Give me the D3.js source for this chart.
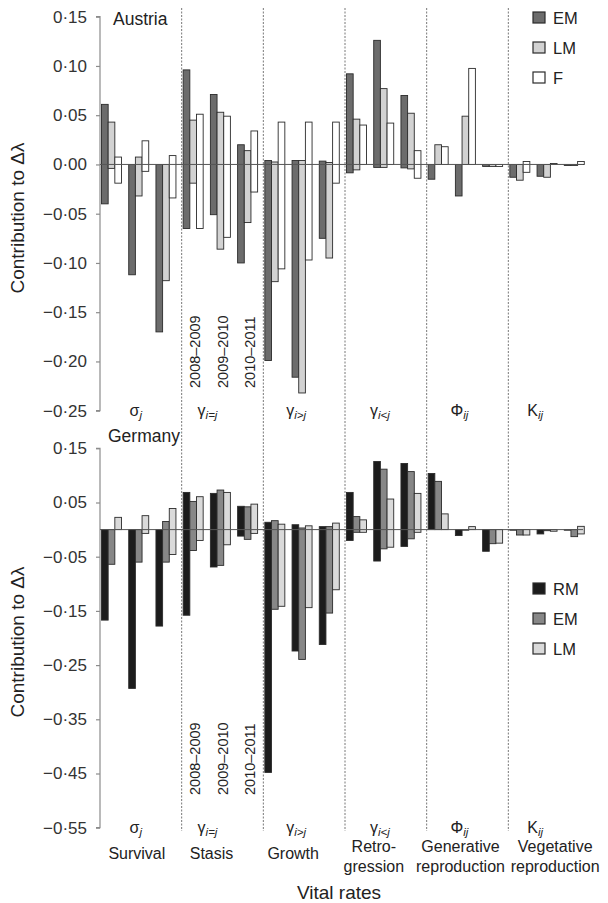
<!DOCTYPE html>
<html>
<head>
<meta charset="utf-8">
<script src="https://cdn.jsdelivr.net/npm/d3@7"></script>
<style>
  html, body { margin: 0; padding: 0; background: #fff; }
  svg { display: block; font-family: "Liberation Sans", Arial, sans-serif; }
</style>
</head>
<body>
<svg id="chart" width="608" height="903"></svg>
<script>
// Vital-rate groups along the x axis
const rateSymbols = ["σ", "γ", "γ", "γ", "Φ", "Κ"];
const rateSubs = ["j", "i=j", "i>j", "i<j", "ij", "ij"];
const rateNames = [["Survival"], ["Stasis"], ["Growth"], ["Retro-", "gression"],
                   ["Generative", "reproduction"], ["Vegetative", "reproduction"]];
const years = ["2008–2009", "2009–2010", "2010–2011"];

// Austria: positive / negative contributions, 6 rates x 3 years each
const austriaSeries = ["EM", "LM", "F"];
const austriaEMpos = [0.061, 0, 0,  0.096, 0.071, 0.020,  0.004, 0.004, 0.0034,  0.092, 0.126, 0.070,  0, 0, 0,  0, 0, 0];
const austriaEMneg = [-0.040, -0.112, -0.170,  -0.065, -0.051, -0.100,  -0.199, -0.216, -0.075,  -0.0085, -0.003, -0.0035,  -0.015, -0.032, -0.002,  -0.013, -0.012, -0.001];
const austriaLMpos = [0.043, 0.0075, 0,  0.045, 0.053, 0.014,  0.0025, 0.004, 0.002,  0.046, 0.077, 0.052,  0.020, 0.049, 0,  0, 0, 0];
const austriaLMneg = [-0.004, -0.032, -0.118,  -0.019, -0.086, -0.059,  -0.119, -0.232, -0.095,  -0.0055, -0.003, -0.0045,  0, 0, -0.002,  -0.016, -0.013, -0.001];
const austriaFpos  = [0.0075, 0.024, 0.009,  0.051, 0.049, 0.034,  0.043, 0.043, 0.043,  0.040, 0.042, 0.014,  0.018, 0.0975, 0,  0.003, 0.001, 0.003];
const austriaFneg  = [-0.019, -0.007, -0.034,  -0.065, -0.074, -0.028,  -0.106, -0.097, -0.019,  0, 0, -0.014,  0, 0, -0.002,  -0.008, 0, 0];

// Germany: positive / negative contributions
const germanySeries = ["RM", "EM", "LM"];
const germanyRMpos = [0, 0, 0,  0.0686, 0.0668, 0.043,  0.0135, 0.009, 0.0055,  0.0686, 0.1256, 0.122,  0.1035, 0, 0,  0, 0, 0];
const germanyRMneg = [-0.167, -0.293, -0.178,  -0.158, -0.069, -0.012,  -0.448, -0.224, -0.212,  -0.020, -0.058, -0.031,  0, -0.011, -0.040,  0, -0.008, 0];
const germanyEMpos = [0, 0, 0.015,  0.052, 0.073, 0.042,  0.0165, 0.003, 0.0055,  0.024, 0.1115, 0.107,  0.089, 0, 0,  0, 0, 0];
const germanyEMneg = [-0.064, -0.060, -0.060,  -0.0386, -0.066, -0.018,  -0.147, -0.2395, -0.154,  -0.005, -0.0355, -0.017,  0, -0.001, -0.026,  -0.010, -0.002, -0.013];
const germanyLMpos = [0.0226, 0.0257, 0.039,  0.0607, 0.0686, 0.047,  0.010, 0.007, 0.012,  0.018, 0.0564, 0.0668,  0.029, 0.0055, 0,  0, 0, 0.006];
const germanyLMneg = [0, -0.007, -0.046,  -0.020, -0.028, -0.007,  -0.1415, -0.144, -0.111,  -0.005, -0.0325, -0.005,  0, 0, -0.025,  -0.010, -0.003, -0.008];

// Axis tick values
const austriaTicks = [0.15, 0.10, 0.05, 0.00, -0.05, -0.10, -0.15, -0.20, -0.25];
const germanyTicks = [0.15, 0.05, -0.05, -0.15, -0.25, -0.35, -0.45, -0.55];

// Layout: horizontal nudges of the group captions from their group centres
const symbolNudge = [-5, -15, -8, -6, -8, -14];
const nameNudge = [-4, -11, -11, -12, -7, 6];

const svg = d3.select("#chart");
const plotLeft = 100, plotRight = 590;

const x0 = d3.scaleBand().domain(d3.range(rateSymbols.length)).range([plotLeft, plotRight]);
const x1 = d3.scaleBand().domain(years).range([0, x0.bandwidth()]);
const groupCenter = i => x0(i) + x0.bandwidth() / 2;

const fmt = v => d3.format(".2f")(v).replace(".", "·").replace("-", "−");

function buildRows(series, pos, neg) {
  const rows = [];
  series.forEach((s, si) => {
    for (let g = 0; g < rateSymbols.length; g++) {
      years.forEach((yr, yi) => {
        const k = g * years.length + yi;
        rows.push({ series: s, group: g, year: yr, pos: pos[si][k], neg: neg[si][k] });
      });
    }
  });
  return rows;
}

const panels = [
  {
    name: "Austria", series: austriaSeries,
    rows: buildRows(austriaSeries, [austriaEMpos, austriaLMpos, austriaFpos], [austriaEMneg, austriaLMneg, austriaFneg]),
    colors: ["#6c6c6c", "#d2d2d2", "#ffffff"],
    domain: [-0.25, 0.15], ticks: austriaTicks, range: [410.7, 16.7],
    titleX: 113, titleY: 25, legendX: 533, legendY: 12,
    yearLabelBottom: 388, labelCenterY: 218
  },
  {
    name: "Germany", series: germanySeries,
    rows: buildRows(germanySeries, [germanyRMpos, germanyEMpos, germanyLMpos], [germanyRMneg, germanyEMneg, germanyLMneg]),
    colors: ["#1c1c1c", "#878787", "#dadada"],
    domain: [-0.55, 0.15], ticks: germanyTicks, range: [827.7, 448.3],
    titleX: 108, titleY: 442, legendX: 533, legendY: 583,
    yearLabelBottom: 795, labelCenterY: 642
  }
];

// Dashed separators between vital-rate groups, running through both panels
svg.append("g").selectAll("line")
  .data(d3.range(1, rateSymbols.length))
  .join("line")
  .attr("x1", d => x0(d)).attr("x2", d => x0(d))
  .attr("y1", 8).attr("y2", 831)
  .attr("stroke", "#555").attr("stroke-width", 0.8)
  .attr("stroke-dasharray", "2,1.5");

panels.forEach(p => {
  const y = d3.scaleLinear().domain(p.domain).range(p.range);
  const x2 = d3.scaleBand().domain(p.series).range([1.5, 21.5]);
  const color = d3.scaleOrdinal().domain(p.series).range(p.colors);
  const g = svg.append("g");

  // y axis
  const axis = d3.axisLeft(y).tickValues(p.ticks).tickFormat(fmt).tickSize(4).tickPadding(9);
  const ax = g.append("g").attr("transform", `translate(${plotLeft},0)`).call(axis);
  ax.select(".domain").attr("stroke", "#8c8c8c").attr("stroke-width", 1.2)
    .attr("d", `M-4,${y(p.domain[1])}H0V${y(p.domain[0])}H-4`);
  ax.selectAll(".tick line").attr("stroke", "#8c8c8c").attr("stroke-width", 1.2);
  ax.selectAll(".tick text").attr("fill", "#333").style("font-size", "17px")
    .style("font-family", "Liberation Sans, Arial, sans-serif");

  // bars: one rectangle from the positive to the negative contribution
  g.append("g").selectAll("rect")
    .data(p.rows)
    .join("rect")
    .attr("x", d => x0(d.group) + x1(d.year) + x2(d.series))
    .attr("width", x2.bandwidth())
    .attr("y", d => y(d.pos))
    .attr("height", d => Math.max(0.6, y(d.neg) - y(d.pos)))
    .attr("fill", d => color(d.series))
    .attr("stroke", "#2b2b2b").attr("stroke-width", 0.9);

  // zero line
  g.append("line")
    .attr("x1", plotLeft).attr("x2", 583)
    .attr("y1", y(0)).attr("y2", y(0))
    .attr("stroke", "#555").attr("stroke-width", 1);

  // panel title
  g.append("text").attr("x", p.titleX).attr("y", p.titleY)
    .attr("fill", "#222").style("font-size", "17.5px").text(p.name);

  // legend
  const lg = g.append("g").selectAll("g").data(p.series).join("g")
    .attr("transform", (d, i) => `translate(${p.legendX},${p.legendY + i * 30})`);
  lg.append("rect").attr("width", 12).attr("height", 11)
    .attr("fill", d => color(d)).attr("stroke", "#2b2b2b").attr("stroke-width", 1.2);
  lg.append("text").attr("x", 20).attr("y", 11.5)
    .attr("fill", "#222").style("font-size", "16.5px").text(d => d);

  // vital-rate symbols at the foot of each panel
  const sym = g.append("g").selectAll("text")
    .data(d3.range(rateSymbols.length))
    .join("text")
    .attr("x", i => groupCenter(i) + symbolNudge[i])
    .attr("y", y(p.domain[0]) + 5)
    .attr("text-anchor", "middle")
    .attr("fill", "#222").style("font-size", "16px");
  sym.append("tspan").text(i => rateSymbols[i]);
  sym.append("tspan").attr("dy", 3).style("font-size", "11.5px").style("font-style", "italic")
    .text(i => rateSubs[i]);

  // year labels under the stasis group
  g.append("g").selectAll("text")
    .data(years)
    .join("text")
    .attr("transform", d => `translate(${x0(1) + x1(d) + x1.bandwidth() / 2},${p.yearLabelBottom}) rotate(-90)`)
    .attr("dy", "0.35em")
    .attr("fill", "#222").style("font-size", "14.5px")
    .text(d => d);

  // y axis title
  g.append("text")
    .attr("transform", `translate(24,${p.labelCenterY}) rotate(-90)`)
    .attr("text-anchor", "middle")
    .attr("fill", "#222").style("font-size", "19px")
    .text("Contribution to Δλ");
});

// vital-rate names below the lower panel
const names = svg.append("g").selectAll("text")
  .data(d3.range(rateNames.length))
  .join("text")
  .attr("text-anchor", "middle")
  .attr("fill", "#222").style("font-size", "16px");
names.selectAll("tspan")
  .data(i => rateNames[i].map((t, k) => ({ t, k, n: rateNames[i].length, i })))
  .join("tspan")
  .attr("x", d => groupCenter(d.i) + nameNudge[d.i])
  .attr("y", d => d.n === 1 ? 859 : 852 + d.k * 20)
  .text(d => d.t);

svg.append("text")
  .attr("x", 339).attr("y", 899)
  .attr("text-anchor", "middle")
  .attr("fill", "#222").style("font-size", "19px")
  .text("Vital rates");
</script>
</body>
</html>
